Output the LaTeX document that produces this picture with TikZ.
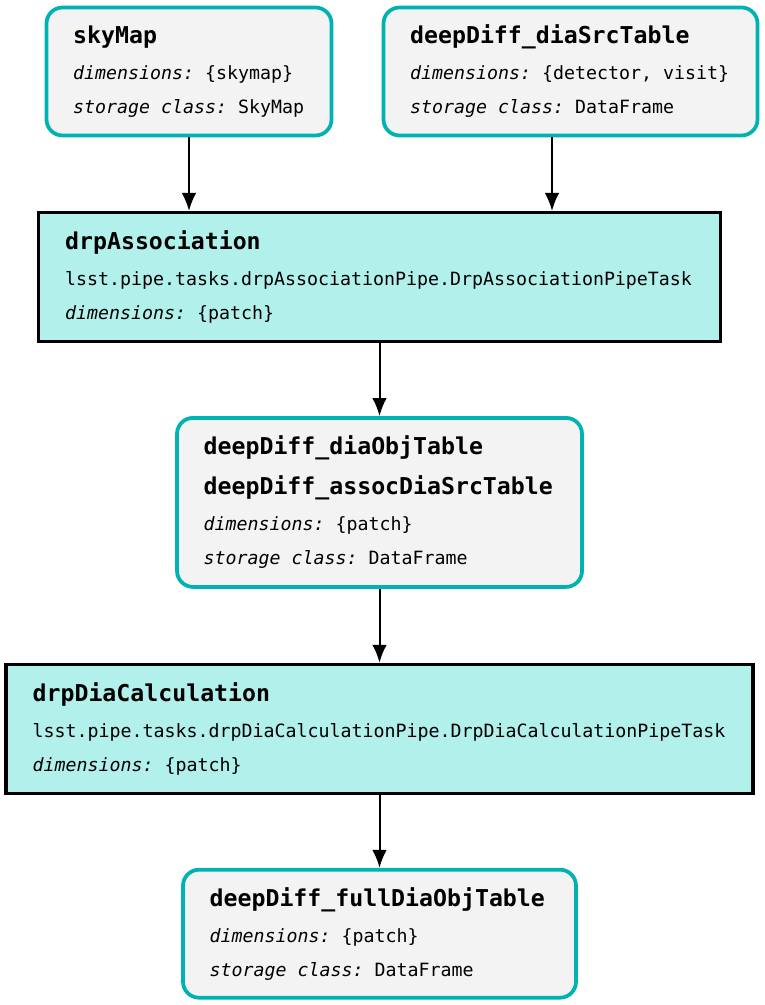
\documentclass[tikz,border=0pt]{standalone}
\usepackage{fontspec}
\setmainfont{DejaVu Sans Mono}
\usetikzlibrary{arrows.meta, positioning}
\definecolor{dsborder}{RGB}{0,178,178}
\definecolor{dsfill}{RGB}{243,243,243}
\definecolor{taskfill}{RGB}{178,240,236}
\newcommand{\titlefont}{\fontsize{17.4}{20}\selectfont\bfseries}
\newcommand{\bodyfont}{\fontsize{13.7}{25.5}\selectfont}
\newcommand{\monospaces}{\spaceskip=0.602em\xspaceskip=0.602em}
\tikzstyle{dataset} = [rectangle, rounded corners=12pt, draw=dsborder, line width=2.8pt, fill=dsfill, align=left, inner xsep=20pt, inner ysep=0pt, font=\bodyfont, execute at begin node=\monospaces]
\tikzstyle{task} = [rectangle, draw=black, line width=2.3pt, fill=taskfill, align=left, inner xsep=20pt, inner ysep=0pt, font=\bodyfont, execute at begin node=\monospaces]
\tikzstyle{arrow} = [line width=1.5pt, -{Latex[length=13.5pt,width=11pt]}]

\begin{document}
\begin{tikzpicture}[x=0.75pt, y=-0.75pt]
\useasboundingbox (0,0) rectangle (764,1005);

% Input datasets
\node (skymap) [dataset, text width=173.75pt, minimum height=96pt] at (189,71.5)
  {{\titlefont skyMap}\\[1.5pt]\textit{dimensions:} \{skymap\}\\\textit{storage class:} SkyMap};
\node (diasrc) [dataset, text width=240.5pt, minimum height=96pt] at (570.5,71.5)
  {{\titlefont deepDiff\_diaSrcTable}\\[1.5pt]\textit{dimensions:} \{detector, visit\}\\\textit{storage class:} DataFrame};

% Association task
\node (drpassoc) [task, text width=471.5pt, minimum height=96.75pt] at (379.5,277)
  {{\titlefont drpAssociation}\\[2pt]lsst.pipe.tasks.drpAssociationPipe.DrpAssociationPipeTask\\\textit{dimensions:} \{patch\}};

% Intermediate datasets
\node (diaobj) [dataset, text width=263.75pt, minimum height=126.75pt, below=54.75pt of drpassoc]
  {{\titlefont deepDiff\_diaObjTable}\\[4.5pt]{\titlefont deepDiff\_assocDiaSrcTable}\\[1.5pt]\textit{dimensions:} \{patch\}\\\textit{storage class:} DataFrame};

% Calculation task
\node (drpcalc) [task, text width=520.25pt, minimum height=96.75pt, below=55.5pt of diaobj]
  {{\titlefont drpDiaCalculation}\\[2pt]lsst.pipe.tasks.drpDiaCalculationPipe.DrpDiaCalculationPipeTask\\\textit{dimensions:} \{patch\}};

% Output dataset
\node (fullobj) [dataset, text width=254.75pt, minimum height=96pt, below=54.75pt of drpcalc]
  {{\titlefont deepDiff\_fullDiaObjTable}\\[1.5pt]\textit{dimensions:} \{patch\}\\\textit{storage class:} DataFrame};

% Arrows
\draw [arrow] (skymap) -- (skymap |- drpassoc.north);
\draw [arrow] (diasrc.south -| 552,0) -- (552,0 |- drpassoc.north);
\draw [arrow] (drpassoc) -- (diaobj);
\draw [arrow] (diaobj) -- (drpcalc);
\draw [arrow] (drpcalc) -- (fullobj);

\end{tikzpicture}
\end{document}
